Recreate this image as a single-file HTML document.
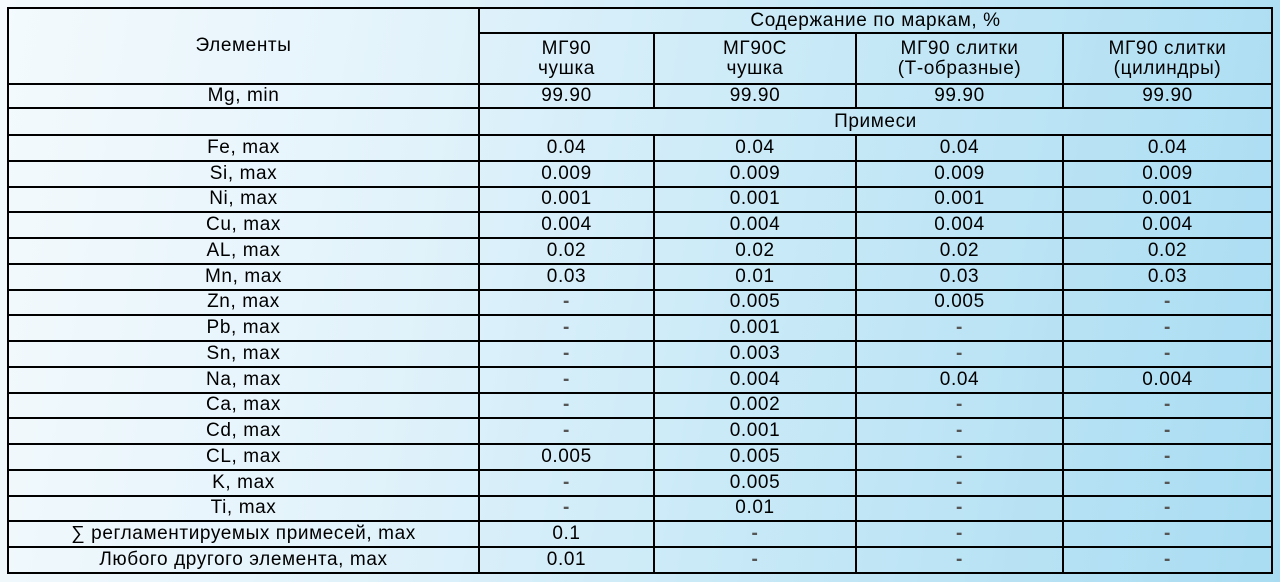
<!DOCTYPE html>
<html><head><meta charset="utf-8"><style>
html,body{margin:0;padding:0;width:1280px;height:582px;overflow:hidden;}
body{background:linear-gradient(100deg,#f4fafd 0%,#e3f3fb 30%,#c8e9f7 60%,#a9dcf2 100%);font-family:"Liberation Sans",Arial,sans-serif;}
table{position:absolute;left:7px;top:7px;border-collapse:collapse;table-layout:fixed;width:1264px;}
td{border:2px solid #000;text-align:center;vertical-align:middle;font-size:19px;letter-spacing:0.6px;line-height:20px;color:#000;padding:0;white-space:nowrap;overflow:hidden;}
tr.r td{height:23.76px;}
.d{color:#555;font-weight:bold;}
</style></head><body>
<table>
<colgroup><col style="width:471px"><col style="width:175px"><col style="width:202px"><col style="width:207px"><col style="width:209px"></colgroup>
<tr style="height:25px"><td rowspan="2">Элементы</td><td colspan="4">Содержание по маркам, %</td></tr>
<tr style="height:51px"><td>МГ90<br>чушка</td><td>МГ90С<br>чушка</td><td>МГ90 слитки<br>(Т-образные)</td><td>МГ90 слитки<br>(цилиндры)</td></tr>
<tr style="height:24px"><td>Mg, min</td><td>99.90</td><td>99.90</td><td>99.90</td><td>99.90</td></tr>
<tr style="height:27px"><td></td><td colspan="4">Примеси</td></tr>
<tr class="r"><td>Fe, max</td><td>0.04</td><td>0.04</td><td>0.04</td><td>0.04</td></tr>
<tr class="r"><td>Si, max</td><td>0.009</td><td>0.009</td><td>0.009</td><td>0.009</td></tr>
<tr class="r"><td>Ni, max</td><td>0.001</td><td>0.001</td><td>0.001</td><td>0.001</td></tr>
<tr class="r"><td>Cu, max</td><td>0.004</td><td>0.004</td><td>0.004</td><td>0.004</td></tr>
<tr class="r"><td>AL, max</td><td>0.02</td><td>0.02</td><td>0.02</td><td>0.02</td></tr>
<tr class="r"><td>Mn, max</td><td>0.03</td><td>0.01</td><td>0.03</td><td>0.03</td></tr>
<tr class="r"><td>Zn, max</td><td class="d">-</td><td>0.005</td><td>0.005</td><td class="d">-</td></tr>
<tr class="r"><td>Pb, max</td><td class="d">-</td><td>0.001</td><td class="d">-</td><td class="d">-</td></tr>
<tr class="r"><td>Sn, max</td><td class="d">-</td><td>0.003</td><td class="d">-</td><td class="d">-</td></tr>
<tr class="r"><td>Na, max</td><td class="d">-</td><td>0.004</td><td>0.04</td><td>0.004</td></tr>
<tr class="r"><td>Ca, max</td><td class="d">-</td><td>0.002</td><td class="d">-</td><td class="d">-</td></tr>
<tr class="r"><td>Cd, max</td><td class="d">-</td><td>0.001</td><td class="d">-</td><td class="d">-</td></tr>
<tr class="r"><td>CL, max</td><td>0.005</td><td>0.005</td><td class="d">-</td><td class="d">-</td></tr>
<tr class="r"><td>K, max</td><td class="d">-</td><td>0.005</td><td class="d">-</td><td class="d">-</td></tr>
<tr class="r"><td>Ti, max</td><td class="d">-</td><td>0.01</td><td class="d">-</td><td class="d">-</td></tr>
<tr class="r"><td>∑ регламентируемых примесей, max</td><td>0.1</td><td class="d">-</td><td class="d">-</td><td class="d">-</td></tr>
<tr class="r"><td>Любого другого элемента, max</td><td>0.01</td><td class="d">-</td><td class="d">-</td><td class="d">-</td></tr>
</table>
</body></html>
